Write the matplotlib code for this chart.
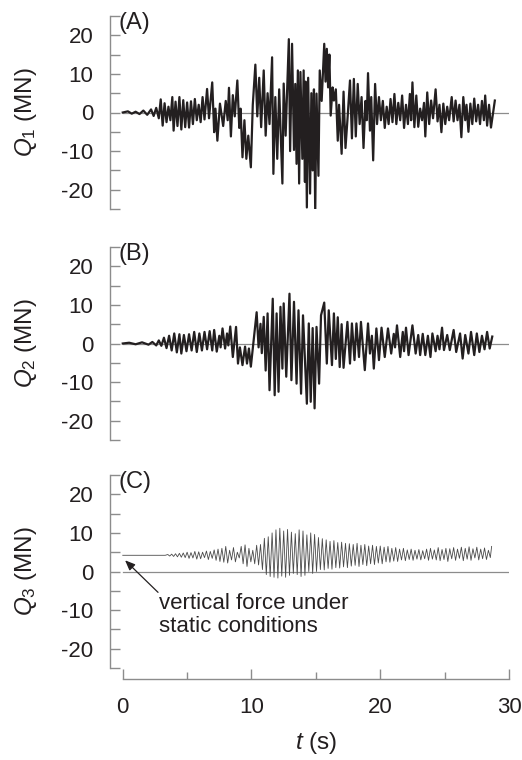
import matplotlib
matplotlib.use("Agg")
import matplotlib.pyplot as plt
import numpy as np

plt.rcParams['font.family'] = ['Liberation Sans', 'DejaVu Sans']
plt.rcParams['mathtext.fontset'] = 'custom'
plt.rcParams['mathtext.rm'] = 'Liberation Sans'
plt.rcParams['mathtext.it'] = 'Liberation Sans:italic'

# ---------------- data ----------------
tA = [0.0, 0.4, 0.7, 1.0, 1.3, 1.6, 1.9, 2.2, 2.4, 2.6, 2.8, 2.95, 3.1, 3.25, 3.4, 3.55, 3.7,
      3.85, 3.95, 4.1, 4.25, 4.4, 4.55, 4.7, 4.85, 5.0, 5.15, 5.3, 5.45, 5.6, 5.75, 5.9, 6.05,
      6.2, 6.35, 6.55, 6.7, 6.95, 7.1, 7.2, 7.35, 7.55, 7.8, 8.0, 8.15, 8.25, 8.4, 8.55, 8.7,
      8.9, 9.05, 9.15, 9.3, 9.45, 9.6, 9.75, 9.95, 10.1, 10.3, 10.45, 10.6, 10.75, 10.95, 11.1,
      11.25, 11.4, 11.6, 11.7, 11.85, 12.0, 12.15, 12.4, 12.5, 12.65, 12.9, 13.0, 13.15, 13.3,
      13.4, 13.5, 13.6, 13.7, 13.8, 13.95, 14.05, 14.15, 14.2, 14.3, 14.4, 14.55, 14.65, 14.75,
      14.85, 14.95, 15.05, 15.2, 15.3, 15.45, 15.65, 15.75, 15.85, 15.95, 16.05, 16.15, 16.3,
      16.4, 16.55, 16.7, 16.8, 17.0, 17.15, 17.3, 17.45, 17.65, 17.8, 17.95, 18.1, 18.25, 18.4,
      18.55, 18.7, 18.85, 18.95, 19.05, 19.2, 19.3, 19.45, 19.6, 19.75, 19.9, 20.05, 20.2,
      20.35, 20.5, 20.65, 20.8, 20.95, 21.1, 21.25, 21.4, 21.55, 21.7, 21.85, 22.0, 22.15,
      22.3, 22.4, 22.5, 22.65, 22.8, 22.95, 23.1, 23.25, 23.4, 23.5, 23.65, 23.8, 23.95, 24.1,
      24.3, 24.45, 24.6, 24.75, 24.9, 25.05, 25.2, 25.35, 25.55, 25.7, 25.85, 26.0, 26.15,
      26.3, 26.45, 26.6, 26.7, 26.85, 27.0, 27.15, 27.3, 27.45, 27.6, 27.75, 27.9, 28.05,
      28.15, 28.3, 28.45, 28.6, 28.9]
qA = [0.0, 0.3, -0.3, 0.2, -0.4, 0.5, -0.6, 0.8, -0.9, 1.2, -1.5, 3.4, -3.4, 2.4, -2.5, 1.5, -2.0,
      4.0, -4.7, 2.8, -3.5, 4.0, -4.4, 3.2, -3.8, 2.6, -3.9, 2.9, -3.0, 3.5, -2.0, 2.0, -2.5,
      4.0, -1.8, 6.1, -1.5, 7.8, -5.1, 1.0, -7.3, 2.3, -3.5, 3.0, -2.0, 6.4, -6.2, 4.5, -1.0,
      8.3, -4.0, 1.0, -11.6, -2.0, -12.0, -6.0, -14.2, 2.0, 12.4, -1.0, 9.0, -3.8, 10.9, -6.0,
      5.0, -3.0, 14.3, -15.9, 4.0, -12.0, 6.0, -18.4, 7.5, -6.0, 19.0, -10.0, 17.8, -9.7,
      7.4, -13.3, 10.9, -18.4, 10.5, -12.0, 10.9, -18.0, 8.0, -24.6, 9.0, -21.0, 5.0, -15.0,
      6.0, -26.2, 4.9, -16.4, 10.9, 3.0, 17.8, 8.0, 16.5, 6.5, 15.0, -0.8, 6.5,
      3.1, 6.0, -7.3, 2.0, -10.7, 5.4, -9.2, -2.0, 8.3, -6.7, 8.7, -6.2, 7.4, -3.0,
      4.0, -9.2, 3.0, -2.0, 10.2, -4.7, 4.0, -12.4, 7.4, -3.0, 4.0, -2.0, 3.0,
      -4.0, 1.5, -3.0, 3.5, -2.5, 4.8, -3.0, 2.5, -2.0, 4.4, -4.0, 2.0, -3.0,
      4.8, -2.0, 7.8, -3.8, 4.4, -3.7, 1.0, -2.0, 2.5, -6.2, 5.2, -3.0, 3.1, -1.5,
      6.0, -2.3, 2.0, -5.1, 2.3, -3.0, 1.5, -2.0, 4.0, -2.3, 3.1, -2.0, 2.0,
      -6.4, 4.0, -2.0, 2.0, -5.0, 2.3, -3.0, 3.6, -2.3, 2.0, -3.0, 3.0, -2.0,
      4.4, -3.4, 2.0, -3.9, 3.1]

tB = [0.0, 0.5, 1.0, 1.5, 2.0, 2.3, 2.6, 2.8, 3.0, 3.2, 3.4, 3.6, 3.8, 4.0, 4.2, 4.4, 4.55,
      4.75, 4.95, 5.15, 5.35, 5.55, 5.75, 5.95, 6.15, 6.35, 6.55, 6.75, 6.95, 7.1, 7.3, 7.5,
      7.6, 7.75, 7.95, 8.1, 8.2, 8.35, 8.55, 8.8, 8.95, 9.1, 9.3, 9.5, 9.65, 9.8, 9.95, 10.1,
      10.4, 10.55, 10.7, 10.8, 10.95, 11.1, 11.25, 11.4, 11.65, 11.8, 11.95, 12.1, 12.25,
      12.4, 12.5, 12.7, 12.95, 13.1, 13.3, 13.5, 13.65, 13.85, 14.0, 14.3, 14.45, 14.6,
      14.75, 14.9, 15.05, 15.25, 15.4, 15.65, 15.85, 16.0, 16.25, 16.4, 16.55, 16.7, 16.85,
      17.0, 17.15, 17.45, 17.65, 17.8, 18.0, 18.15, 18.35, 18.5, 18.8, 19.05, 19.2, 19.35,
      19.5, 19.7, 19.9, 20.1, 20.35, 20.6, 20.85, 21.05, 21.15, 21.3, 21.55, 21.75, 21.85,
      22.0, 22.2, 22.5, 22.75, 22.95, 23.1, 23.3, 23.5, 23.7, 23.9, 24.05, 24.3, 24.45, 24.6,
      24.8, 24.95, 25.2, 25.4, 25.7, 25.9, 26.2, 26.4, 26.6, 26.85, 27.05, 27.3, 27.5, 27.7,
      27.9, 28.1, 28.3, 28.5, 28.7]
qB = [0.0, 0.2, -0.2, 0.3, -0.3, 0.4, -0.5, 0.8, -0.6, 1.5, -1.2, 2.0, -1.8, 2.6, -2.3, 2.4, -2.6,
      2.2, -2.0, 2.4, -1.8, 3.0, -2.2, 2.6, -1.8, 3.0, -1.5, 3.2, -1.8, 3.5, -2.1, 2.0,
      -1.0, 3.9, -1.3, 2.6, -0.5, 4.4, -3.5, 4.3, -5.2, -1.0, -5.6, -0.8, -5.2, -1.3, -6.0, -1.3,
      8.1, -1.0, 5.1, -2.5, 6.9, -7.0, 7.8, -12.1, 11.6, -13.4, 7.8, -12.5, 9.5,
      -6.5, 10.4, -8.6, 12.9, -9.5, 10.8, -10.4, 8.6, -13.0, 7.3, -15.6, 5.2, -15.1,
      4.0, -16.8, 4.3, -10.4, 7.3, 10.6, -5.2, 8.6, -5.6, 7.8, -4.0, 6.8, -6.1,
      5.0, -6.3, 5.6, -5.2, 5.2, -4.3, 5.2, -3.5, 5.6, -6.9, 5.2, -2.6, 2.0,
      -6.5, 3.9, -4.3, 4.1, -3.5, 3.9, -2.6, 2.5, -1.0, 4.7, -3.5, 3.0, -2.0,
      4.1, -3.0, 4.7, -2.6, 2.2, -3.0, 2.5, -3.0, 2.0, -3.5, 2.6, -2.0, 2.0, -1.5,
      4.1, -1.7, 2.2, -1.7, 3.5, -2.2, 2.6, -3.9, 2.2, -2.6, 3.0, -3.0, 2.6, -2.2,
      2.0, -1.5, 3.0, -1.3, 1.8]

tC = [0.0, 3.3, 3.5, 3.65, 3.8, 3.95, 4.1, 4.25, 4.4, 4.55, 4.7, 4.85, 5.0, 5.15, 5.3, 5.45,
      5.6, 5.75, 5.9, 6.05, 6.2, 6.35, 6.5, 6.65, 6.8, 6.95, 7.1, 7.25, 7.4, 7.55, 7.7, 7.85,
      8.0, 8.15, 8.3, 8.45, 8.6, 8.75, 8.9, 9.05, 9.2, 9.35, 9.5, 9.65, 9.8, 9.95, 10.1, 10.25,
      10.4, 10.55, 10.7, 10.85, 11.0, 11.15, 11.3, 11.45, 11.6, 11.75, 11.9, 12.05, 12.2,
      12.35, 12.5, 12.65, 12.8, 12.95, 13.1, 13.25, 13.4, 13.55, 13.7, 13.85, 14.0, 14.15,
      14.3, 14.45, 14.6, 14.75, 14.9, 15.05, 15.2, 15.35, 15.5, 15.65, 15.8, 15.95, 16.1,
      16.25, 16.4, 16.55, 16.7, 16.85, 17.0, 17.15, 17.3, 17.45, 17.6, 17.75, 17.9, 18.05,
      18.2, 18.35, 18.5, 18.65, 18.8, 18.95, 19.1, 19.25, 19.4, 19.55, 19.7, 19.85, 20.0,
      20.15, 20.3, 20.45, 20.6, 20.75, 20.9, 21.05, 21.2, 21.35, 21.5, 21.65, 21.8, 21.95,
      22.1, 22.25, 22.4, 22.55, 22.7, 22.85, 23.0, 23.15, 23.3, 23.45, 23.6, 23.75, 23.9,
      24.05, 24.2, 24.35, 24.5, 24.65, 24.8, 24.95, 25.1, 25.25, 25.4, 25.55, 25.7, 25.85,
      26.0, 26.15, 26.3, 26.45, 26.6, 26.75, 26.9, 27.05, 27.2, 27.35, 27.5, 27.65, 27.8,
      27.95, 28.1, 28.25, 28.4, 28.55, 28.65]
qC = [4.2, 4.2, 4.4, 4.0, 4.5, 3.9, 4.6, 3.8, 4.7, 3.7, 4.8, 3.6, 5.0, 3.4, 4.9, 3.5,
      5.2, 3.2, 5.1, 3.3, 5.0, 3.6, 5.3, 3.1, 5.2, 3.4, 5.6, 2.9, 5.8, 2.6, 6.0, 2.4,
      6.5, 2.2, 5.5, 3.0, 6.2, 2.5, 5.0, 3.5, 6.5, 2.0, 6.9, 1.3, 6.0, 2.5, 5.5, 2.0,
      6.8, 1.7, 7.0, 0.5, 8.6, -0.8, 9.0, -1.3, 10.0, -1.5, 10.8, -1.7, 11.2,
      -1.2, 10.5, -1.5, 10.9, -1.0, 10.2, -0.5, 9.8, -0.8, 10.8, -1.3, 10.5, -1.0,
      9.5, 0.0, 10.0, -0.5, 9.6, 0.0, 8.8, 0.5, 8.5, 0.4, 8.2, 0.8, 7.8,
      0.6, 8.0, 1.0, 7.5, 0.9, 7.6, 1.2, 7.3, 1.0, 7.2, 1.4, 7.0, 1.6,
      7.3, 1.3, 6.8, 1.8, 7.0, 1.5, 6.6, 2.0, 6.8, 1.8, 6.5, 2.2, 6.6,
      2.0, 6.3, 2.5, 6.5, 2.4, 6.0, 2.7, 6.2, 2.6, 5.8, 3.0, 6.0, 2.8,
      5.6, 3.1, 5.8, 2.9, 5.5, 3.2, 5.7, 3.0, 5.4, 3.3, 5.8, 2.9, 6.0,
      3.2, 5.6, 3.0, 6.2, 2.8, 5.7, 3.1, 6.0, 2.6, 5.9, 3.3, 6.2, 2.9,
      5.8, 3.4, 6.3, 2.8, 6.0, 3.2, 6.4, 2.9, 5.9, 3.5, 6.3, 3.0, 5.8,
      3.3, 6.1, 3.1, 5.5, 3.6, 6.5]

panel_labels = ["(A)", "(B)", "(C)"]
ylabels = [r"$\mathit{Q}_1$ (MN)", r"$\mathit{Q}_2$ (MN)", r"$\mathit{Q}_3$ (MN)"]
yticks_major = [-20, -10, 0, 10, 20]
yticks_minor = [-25, -15, -5, 5, 15, 25]
xticks_major = [0, 10, 20, 30]
xticks_minor = [5, 15, 25]
static_force = 4.2
annot_text = "vertical force under\nstatic conditions"
arrow_head = (0.18, 2.9)
arrow_tail = (2.74, -5.4)
text_pos = (2.85, -5.6)

series = [(tA, qA), (tB, qB), (tC, qC)]

# ---------------- layout ----------------
W, H = 522, 760
fig = plt.figure(figsize=(W / 100, H / 100), dpi=100)
left_px, right_px = 110, 509
tops = [16, 247, 475]
ax_h = 193
gray = "#8c8c8c"
txt = "#231f20"
FS = 16

axes = []
for i, top in enumerate(tops):
    ax = fig.add_axes([left_px / W, 1 - (top + ax_h) / H, (right_px - left_px) / W, ax_h / H])
    axes.append(ax)
    t, q = series[i]
    if i < 2:
        ax.plot(t, q, color=txt, lw=1.6, zorder=3)
    else:
        ax.plot(t, q, color="#4a4a4a", lw=0.6, zorder=3)
    ax.plot([0, 30], [0, 0], color=gray, lw=0.9, zorder=2)
    ax.set_xlim(-0.99, 30)
    ax.set_ylim(-25, 25)
    for s in ["top", "right"]:
        ax.spines[s].set_visible(False)
    ax.spines["left"].set_color(gray)
    ax.spines["left"].set_linewidth(1.0)
    ax.set_yticks(yticks_major)
    ax.set_yticks(yticks_minor, minor=True)
    ax.set_yticklabels([str(v) for v in yticks_major])
    ax.tick_params(axis="y", which="both", direction="in", length=7, width=1.0,
                   color=gray, labelsize=FS, labelcolor=txt, pad=12)
    ax.text(-0.3, 23.3, panel_labels[i], ha="left", va="center", fontsize=17, color=txt)
    fig.text(26 / W, 1 - (top + ax_h / 2) / H, ylabels[i], rotation=90,
             ha="center", va="center", fontsize=17.5, color=txt)
    if i < 2:
        ax.spines["bottom"].set_visible(False)
        ax.set_xticks([])
    else:
        ax.spines["bottom"].set_position(("outward", 8))
        ax.spines["bottom"].set_bounds(0, 30)
        ax.spines["bottom"].set_color(gray)
        ax.spines["bottom"].set_linewidth(1.0)
        ax.set_xticks(xticks_major)
        ax.set_xticks(xticks_minor, minor=True)
        ax.set_xticklabels([str(v) for v in xticks_major])
        ax.tick_params(axis="x", which="major", direction="in", length=7, width=1.0,
                       color=gray, labelsize=FS, labelcolor=txt, pad=13)
        ax.tick_params(axis="x", which="minor", direction="in", length=5, width=1.0,
                       color=gray)
        ax.text(text_pos[0], text_pos[1], annot_text, ha="left", va="top",
                fontsize=FS, color=txt, linespacing=1.1)
        ax.annotate("", xy=arrow_head, xytext=arrow_tail,
                    arrowprops=dict(arrowstyle="-|>,head_length=0.6,head_width=0.25",
                                    color=txt, lw=0.9, shrinkA=0, shrinkB=0))

fig.text(316 / W, 1 - 743 / H, r"$\mathit{t}$ (s)", ha="center", va="center",
         fontsize=17.5, color=txt)

fig.savefig("out.png", dpi=100)
